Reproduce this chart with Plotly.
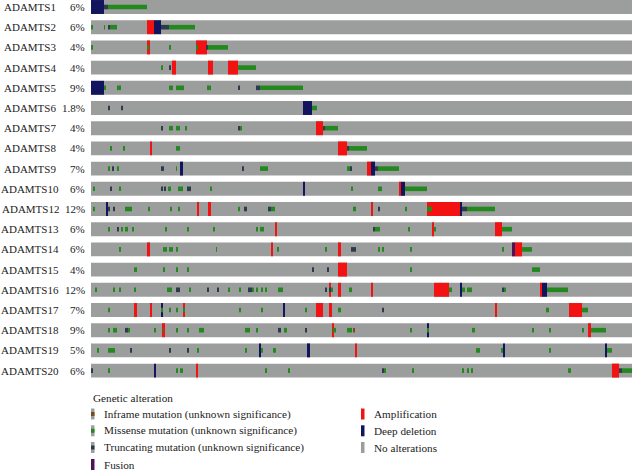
import plotly.graph_objects as go

genes = ["ADAMTS1", "ADAMTS2", "ADAMTS3", "ADAMTS4", "ADAMTS5", "ADAMTS6", "ADAMTS7",
         "ADAMTS8", "ADAMTS9", "ADAMTS10", "ADAMTS12", "ADAMTS13", "ADAMTS14", "ADAMTS15",
         "ADAMTS16", "ADAMTS17", "ADAMTS18", "ADAMTS19", "ADAMTS20"]
percents = ["6%", "6%", "4%", "4%", "9%", "1.8%", "4%", "4%", "7%", "6%", "12%", "6%",
            "6%", "4%", "12%", "7%", "9%", "5%", "6%"]
n_samples = 541

# (gene, first sample, number of samples)
amplification = [
    ("ADAMTS2", 56, 7),
    ("ADAMTS3", 56, 3), ("ADAMTS3", 105, 11),
    ("ADAMTS4", 81, 4), ("ADAMTS4", 117, 5), ("ADAMTS4", 137, 10),
    ("ADAMTS7", 225, 7),
    ("ADAMTS8", 59, 2), ("ADAMTS8", 247, 9),
    ("ADAMTS9", 276, 4),
    ("ADAMTS10", 308, 2),
    ("ADAMTS12", 106, 2), ("ADAMTS12", 117, 3), ("ADAMTS12", 280, 2), ("ADAMTS12", 336, 34),
    ("ADAMTS13", 184, 2), ("ADAMTS13", 341, 2), ("ADAMTS13", 404, 7),
    ("ADAMTS14", 56, 3), ("ADAMTS14", 180, 2), ("ADAMTS14", 247, 3), ("ADAMTS14", 424, 7),
    ("ADAMTS15", 247, 9),
    ("ADAMTS16", 238, 2), ("ADAMTS16", 247, 3), ("ADAMTS16", 280, 2), ("ADAMTS16", 343, 15),
    ("ADAMTS16", 449, 2),
    ("ADAMTS17", 43, 3), ("ADAMTS17", 59, 2), ("ADAMTS17", 92, 2), ("ADAMTS17", 225, 7),
    ("ADAMTS17", 238, 3), ("ADAMTS17", 404, 2), ("ADAMTS17", 478, 13),
    ("ADAMTS18", 71, 3), ("ADAMTS18", 241, 2), ("ADAMTS18", 497, 3),
    ("ADAMTS19", 264, 2),
    ("ADAMTS20", 105, 2), ("ADAMTS20", 521, 7),
]
deep_deletion = [
    ("ADAMTS1", 0, 13), ("ADAMTS2", 63, 7), ("ADAMTS5", 0, 13), ("ADAMTS6", 212, 9),
    ("ADAMTS9", 89, 3), ("ADAMTS9", 280, 4),
    ("ADAMTS10", 212, 2), ("ADAMTS10", 310, 4),
    ("ADAMTS12", 15, 2), ("ADAMTS12", 369, 2),
    ("ADAMTS16", 369, 2), ("ADAMTS16", 451, 5),
    ("ADAMTS17", 70, 2), ("ADAMTS17", 192, 2),
    ("ADAMTS18", 336, 2),
    ("ADAMTS19", 168, 2), ("ADAMTS19", 216, 3), ("ADAMTS19", 412, 2), ("ADAMTS19", 514, 2),
    ("ADAMTS20", 63, 2),
]
fusion = [("ADAMTS14", 421, 3)]
inframe = [("ADAMTS18", 262, 2)]

missense = {
    "ADAMTS1": [(17, 39)],
    "ADAMTS2": [(0, 2), (13, 1), (19, 7), (78, 26)],
    "ADAMTS3": [(0, 2), (56, 2), (78, 2), (105, 2), (117, 20)],
    "ADAMTS4": [(70, 2), (147, 18)],
    "ADAMTS5": [(13, 2), (26, 4), (78, 4), (85, 8), (116, 4), (169, 43)],
    "ADAMTS6": [(221, 5)],
    "ADAMTS7": [(78, 4), (85, 4), (94, 2), (149, 2), (234, 13)],
    "ADAMTS8": [(19, 2), (32, 2), (85, 4), (258, 18)],
    "ADAMTS9": [(17, 2), (26, 2), (85, 1), (169, 8), (256, 3), (287, 21)],
    "ADAMTS10": [(2, 2), (28, 2), (77, 3), (87, 5), (119, 2), (260, 2), (287, 4), (314, 22)],
    "ADAMTS12": [(2, 2), (34, 7), (57, 2), (79, 2), (87, 2), (147, 2), (180, 4), (262, 3),
                 (314, 2), (336, 5), (376, 28)],
    "ADAMTS13": [(17, 2), (30, 2), (34, 3), (41, 2), (74, 2), (96, 2), (122, 2), (165, 2),
                 (169, 4), (284, 5), (317, 2), (343, 2), (411, 10)],
    "ADAMTS14": [(28, 2), (72, 4), (78, 4), (85, 2), (125, 1), (186, 2), (234, 2), (287, 2),
                 (291, 2), (319, 2), (411, 2), (431, 10)],
    "ADAMTS15": [(43, 3), (72, 2), (85, 2), (96, 2), (319, 2), (441, 8)],
    "ADAMTS16": [(4, 2), (22, 2), (28, 2), (43, 2), (76, 5), (98, 2), (137, 2), (148, 2),
                 (161, 2), (165, 2), (170, 2), (174, 2), (187, 5), (240, 2), (258, 3),
                 (358, 3), (371, 3), (376, 5), (413, 2), (456, 21)],
    "ADAMTS17": [(17, 2), (70, 2), (78, 2), (85, 2), (92, 2), (148, 2), (170, 2), (214, 2),
                 (247, 3), (455, 3), (491, 6)],
    "ADAMTS18": [(17, 2), (22, 4), (37, 2), (63, 2), (72, 1), (85, 2), (96, 2), (108, 5),
                 (154, 5), (165, 2), (193, 3), (242, 3), (256, 5), (319, 2), (336, 2),
                 (381, 3), (441, 2), (458, 2), (491, 2), (500, 15)],
    "ADAMTS19": [(6, 2), (17, 7), (106, 2), (154, 2), (170, 2), (182, 3), (385, 4), (410, 2),
                 (458, 2), (516, 5)],
    "ADAMTS20": [(17, 2), (85, 2), (89, 3), (174, 2), (197, 2), (293, 2), (321, 2), (371, 2),
                 (376, 2), (380, 2), (477, 3), (531, 10)],
}
truncating = {
    "ADAMTS1": [(13, 4)],
    "ADAMTS2": [(17, 2), (70, 8)],
    "ADAMTS3": [(115, 2)],
    "ADAMTS4": [(78, 2)],
    "ADAMTS5": [(147, 2), (165, 4)],
    "ADAMTS6": [(17, 2), (30, 2)],
    "ADAMTS7": [(70, 2), (147, 2), (232, 2)],
    "ADAMTS8": [(256, 2)],
    "ADAMTS9": [(21, 2), (70, 3), (151, 2), (259, 2), (284, 3)],
    "ADAMTS10": [(19, 2), (70, 2), (73, 2), (96, 4)],
    "ADAMTS12": [(17, 2), (22, 2), (153, 3), (177, 3), (287, 2), (371, 5)],
    "ADAMTS13": [(26, 2), (282, 2)],
    "ADAMTS14": [(260, 5)],
    "ADAMTS15": [(221, 2), (236, 2)],
    "ADAMTS16": [(85, 4), (116, 2), (126, 2), (157, 4), (234, 2), (238, 2), (411, 2)],
    "ADAMTS17": [(291, 2)],
    "ADAMTS18": [(34, 3), (187, 3), (214, 2)],
    "ADAMTS19": [(39, 2), (78, 2), (96, 2)],
    "ADAMTS20": [(0, 2), (291, 2), (528, 3)],
}

COL_NONE = "#9c9e9e"
COL_AMP = "#f21212"
COL_DEL = "#13145e"
COL_FUS = "#4a1458"
COL_MIS = "#23891f"
COL_TRUNC = "#2e3b4a"
COL_INFR = "#7a4a1c"

FULL = 0.69
THIN = 0.23
SERIF = "Liberation Serif, Times New Roman, serif"

# plot area in pixels: x 91..632, y 0..380
L, W, H_PLOT = 91, 541, 380


def px_x(p):
    return (p - L) / W


def px_y(p):
    return (H_PLOT - p) / H_PLOT


def flat(d):
    rows = []
    for g, spans in d.items():
        for s, w in spans:
            rows.append((g, s, w))
    return rows


def bar(events, color, thick):
    return go.Bar(
        y=[genes.index(g) for g, s, w in events],
        base=[s for g, s, w in events],
        x=[w for g, s, w in events],
        orientation="h",
        width=thick,
        marker=dict(color=color, line=dict(width=0)),
        hoverinfo="skip",
        showlegend=False,
    )


fig = go.Figure()
fig.add_trace(bar([(g, 0, n_samples) for g in genes], COL_NONE, FULL))
fig.add_trace(bar(amplification, COL_AMP, FULL))
fig.add_trace(bar(deep_deletion, COL_DEL, FULL))
fig.add_trace(bar(fusion, COL_FUS, FULL))
fig.add_trace(bar(flat(missense), COL_MIS, THIN))
fig.add_trace(bar(flat(truncating), COL_TRUNC, THIN))
fig.add_trace(bar(inframe, COL_INFR, THIN))

annotations = []
for i, g in enumerate(genes):
    annotations.append(dict(x=px_x(30), y=i, xref="paper", yref="y", text=g, showarrow=False,
                            xanchor="center", yanchor="middle",
                            font=dict(family=SERIF, size=11, color="#222")))
    annotations.append(dict(x=px_x(87), y=i, xref="paper", yref="y", text=percents[i],
                            showarrow=False, xanchor="right", yanchor="middle",
                            font=dict(family=SERIF, size=11, color="#222")))

# legend
legend_font = dict(family=SERIF, size=11.2, color="#222")
annotations.append(dict(x=px_x(90.5), y=px_y(397.5), xref="paper", yref="paper",
                        text="Genetic alteration", showarrow=False, xanchor="left",
                        yanchor="middle", font=legend_font))
left_items = [("Inframe mutation (unknown significance)", COL_INFR, "thin"),
              ("Missense mutation (unknown significance)", COL_MIS, "thin"),
              ("Truncating mutation (unknown significance)", COL_TRUNC, "thin"),
              ("Fusion", COL_FUS, "full")]
right_items = [("Amplification", COL_AMP, "full"),
               ("Deep deletion", COL_DEL, "full"),
               ("No alterations", COL_NONE, "full")]
row_y = [414, 430.8, 447.5, 464.5]

shapes = []


def legend_item(x0, yc, label, color, kind):
    shapes.append(dict(type="rect", xref="paper", yref="paper",
                       x0=px_x(x0), x1=px_x(x0 + 3.5), y0=px_y(yc + 5.5), y1=px_y(yc - 5.5),
                       fillcolor=COL_NONE if kind == "thin" else color, line=dict(width=0)))
    if kind == "thin":
        shapes.append(dict(type="rect", xref="paper", yref="paper",
                           x0=px_x(x0), x1=px_x(x0 + 3.5), y0=px_y(yc + 2), y1=px_y(yc - 2),
                           fillcolor=color, line=dict(width=0)))
    annotations.append(dict(x=px_x(x0 + 10.5), y=px_y(yc), xref="paper", yref="paper",
                            text=label, showarrow=False, xanchor="left", yanchor="middle",
                            font=legend_font))


for (label, c, k), yc in zip(left_items, row_y):
    legend_item(91, yc, label, c, k)
for (label, c, k), yc in zip(right_items, row_y):
    legend_item(361, yc, label, c, k)

fig.update_layout(
    width=632, height=472,
    margin=dict(l=L, r=0, t=0, b=472 - H_PLOT),
    barmode="overlay",
    plot_bgcolor="white", paper_bgcolor="white",
    xaxis=dict(range=[0, n_samples], visible=False, fixedrange=True),
    yaxis=dict(range=[(H_PLOT - 7) / 20.2, -7 / 20.2], visible=False, fixedrange=True),
    annotations=annotations,
    shapes=shapes,
    showlegend=False,
)

# drop the page's default body margin so the figure sits at the window's corner
fig.write_html("out.html", config={"displayModeBar": False},
               post_script="document.body.style.margin='0';")
